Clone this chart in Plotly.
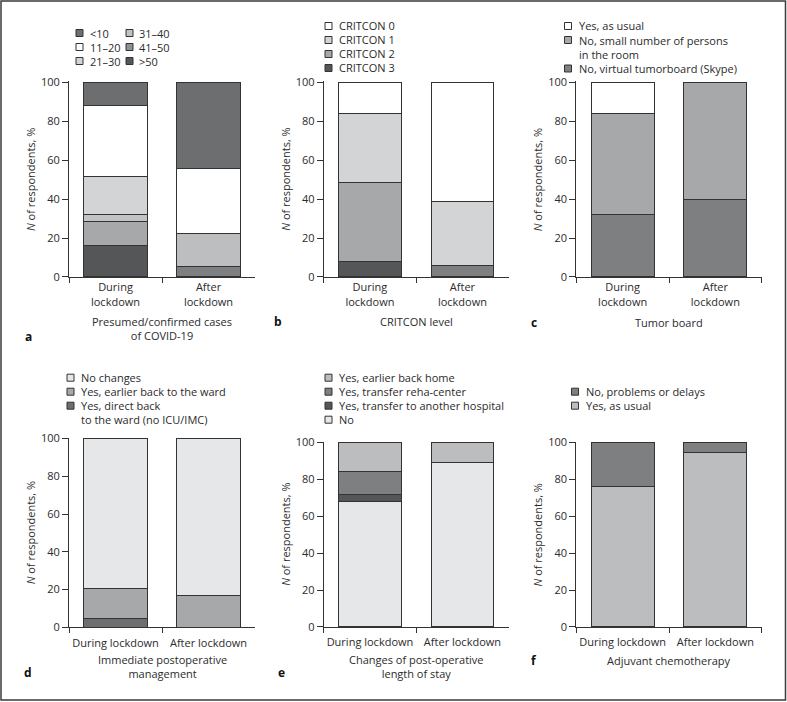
import plotly.graph_objects as go

# ---------------- data ----------------
periods = ["During lockdown", "After lockdown"]
periods_2line = ["During<br>lockdown", "After<br>lockdown"]

# panel a: presumed/confirmed cases (stack order bottom -> top)
a_names = [">50", "41–50", "31–40", "21–30", "11–20", "<10"]
a_gt50 = [16.4, 0.0]
a_41_50 = [12.1, 5.5]
a_31_40 = [3.6, 16.9]
a_21_30 = [19.7, 0.0]
a_11_20 = [36.4, 33.2]
a_lt10 = [11.8, 44.4]

# panel b: CRITCON level
b_names = ["CRITCON 3", "CRITCON 2", "CRITCON 1", "CRITCON 0"]
b_c3 = [8.2, 0.0]
b_c2 = [40.2, 5.8]
b_c1 = [35.4, 33.0]
b_c0 = [16.2, 61.2]

# panel c: tumor board
c_names = ["No, virtual tumorboard (Skype)", "No, small number of persons<br>in the room", "Yes, as usual"]
c_virtual = [32.1, 39.8]
c_small = [51.7, 60.2]
c_usual = [16.2, 0.0]

# panel d: immediate postoperative management
d_names = ["Yes, direct back<br>to the ward (no ICU/IMC)", "Yes, earlier back to the ward", "No changes"]
d_direct = [4.6, 0.0]
d_earlier = [16.2, 17.1]
d_nochange = [79.2, 82.9]

# panel e: changes of post-operative length of stay
e_names = ["No", "Yes, transfer to another hospital", "Yes, transfer reha-center", "Yes, earlier back home"]
e_no = [67.9, 89.2]
e_hospital = [3.9, 0.0]
e_reha = [12.5, 0.0]
e_home = [15.7, 10.8]

# panel f: adjuvant chemotherapy
f_names = ["Yes, as usual", "No, problems or delays"]
f_usual = [76.2, 94.8]
f_delay = [23.8, 5.2]

y_ticks = [0, 20, 40, 60, 80, 100]

# ---------------- styling ----------------
W, H = 787, 702
FONT = "Open Sans"
TXT = "#2b2b2b"
LINE = "#333333"

def fx(x):
    return x / W

def fy(y):
    return 1 - y / H

fig = go.Figure()

panels = [
    dict(key="a", xd=(69, 255), yd=(82, 277), two=True,
         series=[(a_names[0], a_gt50, ["#555658", "#555658"], "#555658"),
                 (a_names[1], a_41_50, ["#a7a8aa", "#7e7f81"], "#8f9092"),
                 (a_names[2], a_31_40, ["#c2c3c5", "#bdbec0"], "#c0c1c3"),
                 (a_names[3], a_21_30, ["#d3d4d6", "#d3d4d6"], "#d3d4d6"),
                 (a_names[4], a_11_20, ["#ffffff", "#ffffff"], "#ffffff"),
                 (a_names[5], a_lt10, ["#6d6e70", "#6d6e70"], "#6d6e70")],
         title="Presumed/confirmed cases<br>of COVID-19", title_xy=(162, 328.5),
         letter=(28, 336)),
    dict(key="b", xd=(323.7, 508.7), yd=(82, 277), two=True,
         series=[(b_names[0], b_c3, ["#555658", "#555658"], "#555658"),
                 (b_names[1], b_c2, ["#a7a8aa", "#7e7f81"], "#a7a8aa"),
                 (b_names[2], b_c1, ["#d3d4d6", "#d3d4d6"], "#d3d4d6"),
                 (b_names[3], b_c0, ["#ffffff", "#ffffff"], "#ffffff")],
         title="CRITCON level", title_xy=(416, 321.7), letter=(278, 321.7)),
    dict(key="c", xd=(576.3, 761.7), yd=(82, 277), two=True,
         series=[(c_names[0], c_virtual, ["#7e7f81", "#7e7f81"], "#7e7f81"),
                 (c_names[1], c_small, ["#a7a8aa", "#a7a8aa"], "#a7a8aa"),
                 (c_names[2], c_usual, ["#ffffff", "#ffffff"], "#ffffff")],
         title="Tumor board", title_xy=(669, 322), letter=(534, 322)),
    dict(key="d", xd=(69, 255), yd=(438.3, 627.3), two=False,
         series=[(d_names[0], d_direct, ["#6d6e70", "#6d6e70"], "#6d6e70"),
                 (d_names[1], d_earlier, ["#a7a8aa", "#a7a8aa"], "#a7a8aa"),
                 (d_names[2], d_nochange, ["#e6e7e9", "#e6e7e9"], "#e6e7e9")],
         title="Immediate postoperative<br>management", title_xy=(162, 666),
         letter=(28, 672)),
    dict(key="e", xd=(323.7, 508.7), yd=(442.3, 627), two=False,
         series=[(e_names[0], e_no, ["#e6e7e9", "#e6e7e9"], "#e6e7e9"),
                 (e_names[1], e_hospital, ["#555658", "#555658"], "#555658"),
                 (e_names[2], e_reha, ["#7e7f81", "#7e7f81"], "#7e7f81"),
                 (e_names[3], e_home, ["#bcbdbf", "#bcbdbf"], "#bcbdbf")],
         title="Changes of post-operative<br>length of stay", title_xy=(416, 666),
         letter=(281, 672)),
    dict(key="f", xd=(576.3, 761.7), yd=(442.3, 627), two=False,
         series=[(f_names[0], f_usual, ["#bcbdbf", "#bcbdbf"], "#bcbdbf"),
                 (f_names[1], f_delay, ["#7e7f81", "#7e7f81"], "#7e7f81")],
         title="Adjuvant chemotherapy", title_xy=(669, 660), letter=(534, 660)),
]

# legend layouts: list of (series index, box_x, row_y, text_x, text_y)
legends = {
    "a": [(5, 76, 33, 88, 33), (4, 76, 47, 88, 47), (3, 76, 61, 88, 61),
          (2, 126, 33, 137, 33), (1, 126, 47, 137, 47), (0, 126, 61, 137, 61)],
    "b": [(3, 325, 26, 337, 26), (2, 325, 40, 337, 40), (1, 325, 54, 337, 54), (0, 325, 68, 337, 68)],
    "c": [(2, 564.5, 26, 577, 26), (1, 564.5, 40, 577, 47), (0, 564.5, 68.5, 577, 68.5)],
    "d": [(2, 67, 377.7, 79, 377.7), (1, 67, 391.7, 79, 391.7), (0, 67, 405.7, 79, 412.5)],
    "e": [(3, 325, 377.7, 337, 377.7), (2, 325, 391.7, 337, 391.7), (1, 325, 405.7, 337, 405.7),
          (0, 325, 419.7, 337, 419.7)],
    "f": [(1, 571.5, 391.7, 584, 391.7), (0, 571.5, 405.7, 584, 405.7)],
}

shapes = []
annotations = []
layout_axes = {}

for i, p in enumerate(panels):
    n = "" if i == 0 else str(i + 1)
    xa, ya = "x" + n, "y" + n
    for name, vals, cols, _ in p["series"]:
        fig.add_trace(go.Bar(
            x=periods, y=vals, name=name, xaxis=xa, yaxis=ya,
            width=0.68, showlegend=False,
            marker=dict(color=cols, line=dict(color=LINE, width=1)),
            hoverinfo="skip",
        ))
    layout_axes["xaxis" + n] = dict(
        domain=[fx(p["xd"][0]), fx(p["xd"][1])], anchor=ya, automargin=False,
        type="category", categoryorder="array", categoryarray=periods,
        range=[-0.5, 1.5], tickson="boundaries", ticks="outside", ticklen=5,
        tickcolor=LINE, showline=True, linecolor=LINE, linewidth=1,
        showgrid=False, zeroline=False, tickangle=0,
        ticklabelstandoff=0 if p["two"] else 5,
        tickvals=periods, ticktext=periods_2line if p["two"] else periods,
        tickfont=dict(family=FONT, size=11, color=TXT),
    )
    layout_axes["yaxis" + n] = dict(
        domain=[fy(p["yd"][1]), fy(p["yd"][0]) + 0.001], anchor=xa, automargin=False,
        range=[0, 100.5], tickvals=y_ticks, ticks="outside", ticklen=6,
        tickcolor=LINE, showline=True, linecolor=LINE, linewidth=1,
        showgrid=False, zeroline=False,
        tickfont=dict(family=FONT, size=11, color=TXT),
    )
    # y-axis title
    ytitle_x = p["xd"][0] - 38.5
    annotations.append(dict(
        text="<i>N</i> of respondents, %", xref="paper", yref="paper",
        x=fx(ytitle_x), y=fy((p["yd"][0] + p["yd"][1]) / 2), textangle=-90,
        showarrow=False, xanchor="center", yanchor="middle",
        font=dict(family=FONT, size=11, color=TXT)))
    # x-axis title
    annotations.append(dict(
        text=p["title"], xref="paper", yref="paper",
        x=fx(p["title_xy"][0]), y=fy(p["title_xy"][1]), showarrow=False,
        xanchor="center", yanchor="middle", align="center",
        font=dict(family=FONT, size=11, color=TXT)))
    # panel letter
    annotations.append(dict(
        text="<b>%s</b>" % p["key"], xref="paper", yref="paper",
        x=fx(p["letter"][0]), y=fy(p["letter"][1]), showarrow=False,
        xanchor="center", yanchor="middle",
        font=dict(family=FONT, size=12, color="#111111")))
    # legend
    for si, bx, by, tx, ty in legends[p["key"]]:
        name, _, _, lcol = p["series"][si]
        shapes.append(dict(type="rect", xref="paper", yref="paper",
                           x0=fx(bx), x1=fx(bx + 7), y0=fy(by + 3.5), y1=fy(by - 3.5),
                           fillcolor=lcol, line=dict(color=LINE, width=1)))
        annotations.append(dict(
            text=name, xref="paper", yref="paper", x=fx(tx), y=fy(ty),
            showarrow=False, xanchor="left", yanchor="middle", align="left",
            font=dict(family=FONT, size=11, color=TXT)))

# outer frame
shapes.append(dict(type="rect", xref="paper", yref="paper",
                   x0=fx(1), x1=fx(785.5), y0=fy(700), y1=fy(1),
                   line=dict(color="#3a3a3a", width=1.5), fillcolor="rgba(0,0,0,0)"))

fig.update_layout(
    width=W, height=H, margin=dict(l=0, r=0, t=0, b=0, autoexpand=False),
    paper_bgcolor="white", plot_bgcolor="white",
    barmode="stack", bargap=0.32, showlegend=False,
    font=dict(family=FONT, size=11, color=TXT),
    shapes=shapes, annotations=annotations,
    **layout_axes,
)

fig.write_html("out.html", config={"displayModeBar": False},
               post_script="document.body.style.margin='0px';")
